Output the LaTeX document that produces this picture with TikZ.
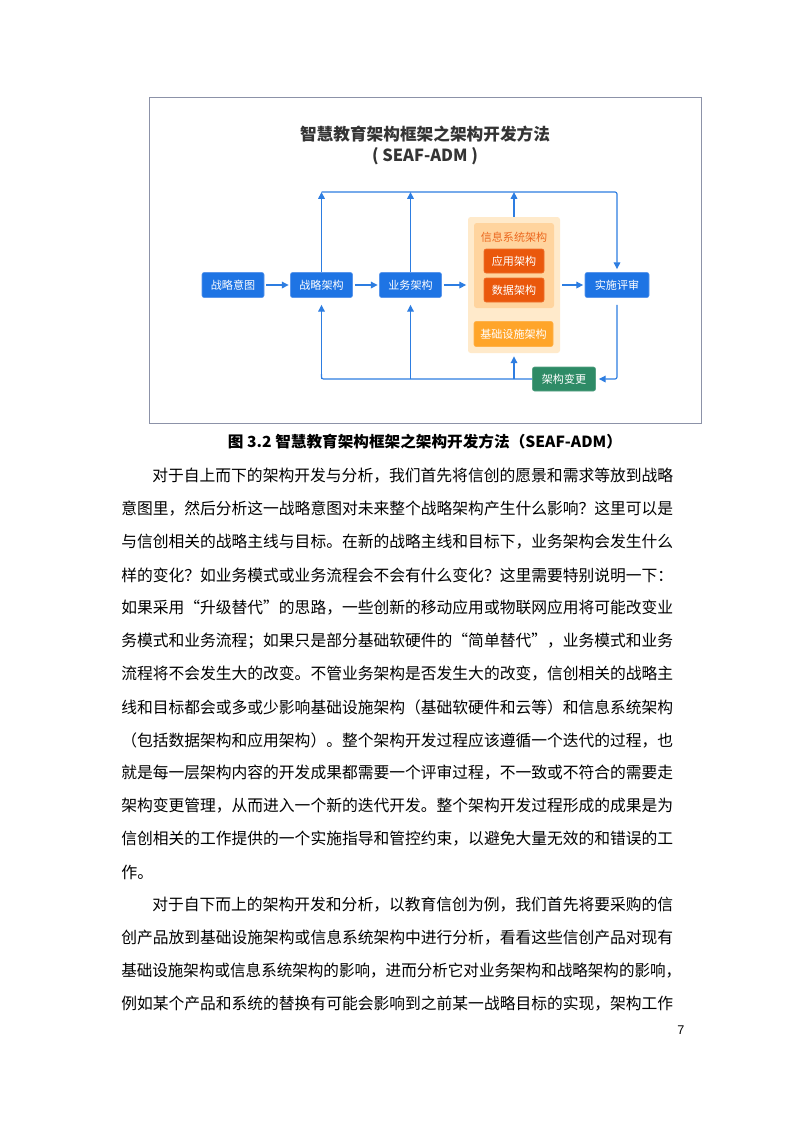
\documentclass[tikz,border=0pt]{standalone}
\usepackage{fontspec}
\usepackage{graphicx}
\newfontfamily\cjk{Noto Sans CJK SC}
\newfontfamily\numfont{Liberation Sans}
\usetikzlibrary{arrows.meta}
\newdimen\upx \upx=0.75pt
\newcommand\fitw[2]{\resizebox{#1\upx}{\height}{#2}}
\definecolor{bluef}{RGB}{30,116,228}
\definecolor{bluebd}{RGB}{90,150,235}
\definecolor{linec}{RGB}{45,125,225}
\definecolor{outerf}{RGB}{255,234,203}
\definecolor{innerf}{RGB}{255,212,158}
\definecolor{darkor}{RGB}{234,88,12}
\definecolor{amber}{RGB}{255,165,42}
\definecolor{lblc}{RGB}{236,104,30}
\definecolor{greenf}{RGB}{46,139,102}
\definecolor{framec}{RGB}{140,146,168}
\definecolor{titlec}{RGB}{52,52,52}
\tikzset{
  boxbase/.style={rounded corners=1.5pt, text=white, inner sep=0pt,
    font=\cjk\fontsize{8.3}{9}\selectfont, minimum width=62\upx, minimum height=25\upx, line width=0.4pt},
  bluebox/.style={boxbase, draw=bluebd, fill=bluef},
  greenbox/.style={boxbase, draw=greenf!80!white, fill=greenf, minimum width=63\upx, minimum height=24\upx},
  darkbox/.style={boxbase, draw=darkor!85!white, fill=darkor, minimum width=60\upx, minimum height=24\upx},
  amberbox/.style={boxbase, draw=amber!85!white, fill=amber, minimum width=79\upx, minimum height=25\upx},
  outerc/.style={fill=outerf, rounded corners=2pt, minimum width=92\upx, minimum height=136\upx, inner sep=0pt},
  innerc/.style={fill=innerf, rounded corners=2pt, minimum width=80\upx, minimum height=85\upx, inner sep=0pt},
  lbl/.style={text=lblc, font=\cjk\fontsize{8.3}{9}\selectfont, inner sep=0pt},
  frame/.style={draw=framec, line width=0.7pt, minimum width=552\upx, minimum height=326\upx, inner sep=0pt},
  conn/.style={draw=linec, line width=0.85pt, -{Triangle[length=5.2pt,width=5pt]}},
  plain/.style={draw=linec, line width=0.85pt},
  bodyt/.style={anchor=west, inner sep=0pt, font=\cjk\fontsize{12}{14}\selectfont},
  titlet/.style={inner sep=0pt, text=titlec, font=\cjk\bfseries\fontsize{12.5}{14}\selectfont},
}
\begin{document}
\begin{tikzpicture}[x=0.75pt,y=-0.75pt]
\useasboundingbox (0,0) rectangle (793,1122);
\fill[white] (0,0) rectangle (793,1122);

% frame
\node[frame] (fr) at (425,260) {};

% title
\node[titlet] (t1) at (425,134) {\fitw{250}{智慧教育架构框架之架构开发方法}};
\node[titlet] (t2) at (425,156.5) {\fitw{106}{( SEAF-ADM )}};

% container
\node[outerc] (ct) at (514,285) {};
\node[innerc] (xx) at (514,265.5) {};
\node[lbl] (xxl) at (514,237.5) {信息系统架构};
\node[darkbox] (yy) at (514,261) {应用架构};
\node[darkbox] (sj) at (514,290) {数据架构};
\node[amberbox] (jc) at (513.5,334) {基础设施架构};

% boxes
\node[bluebox] (yt) at (233,285) {战略意图};
\node[bluebox] (zj) at (321.5,285) {战略架构};
\node[bluebox] (yw) at (410.5,285) {业务架构};
\node[bluebox, minimum width=64\upx] (ss) at (617,285) {实施评审};
\node[greenbox] (bg) at (564,379) {架构变更};

\coordinate (top) at (0,192);
\coordinate (bot) at (0,379);

% horizontal flow
\draw[conn, shorten <=2\upx, shorten >=1.5\upx] (yt) -- (zj);
\draw[conn, shorten <=2\upx, shorten >=1.5\upx] (zj) -- (yw);
\draw[conn, shorten <=2\upx, shorten >=1.5\upx] (yw) -- (ct);
\draw[conn, shorten <=2\upx, shorten >=1.5\upx] (ct) -- (ss);

% top loop
\draw[conn] (zj.north) -- (zj.north |- top);
\draw[conn] (yw.north) -- (yw.north |- top);
\draw[conn] (ct.north) -- (ct.north |- top);
\draw[conn, rounded corners=1.5pt, shorten >=3\upx] (zj.north |- top) -- (ss.north |- top) -- (ss.north);

% bottom loop
\draw[conn, rounded corners=1.5pt, shorten <=7\upx, shorten >=3\upx] (ss.south) -- (ss.south |- bot) -- (bg.east);
\draw[plain, rounded corners=1.5pt] (bg.west) -- (zj.south |- bot) -- ++(0,-5);
\draw[conn, shorten >=7\upx] (zj.south |- bot) -- (zj.south);
\draw[conn, shorten >=7\upx] (yw.south |- bot) -- (yw.south);
\draw[conn, shorten >=3\upx] (ct.south |- bot) -- (ct.south);

% caption
\node[inner sep=0pt, font=\cjk\bfseries\fontsize{11.5}{13}\selectfont] (cap) at (425,442)
  {\fitw{394}{图 3.2 智慧教育架构框架之架构开发方法（SEAF-ADM）}};

% body text
\node[bodyt] (l1) at (152,476) {\fitw{521}{对于自上而下的架构开发与分析，我们首先将信创的愿景和需求等放到战略}};
\node[bodyt] (l2) at (121,509) {\fitw{552}{意图里，然后分析这一战略意图对未来整个战略架构产生什么影响？这里可以是}};
\node[bodyt] (l3) at (121,542) {\fitw{552}{与信创相关的战略主线与目标。在新的战略主线和目标下，业务架构会发生什么}};
\node[bodyt] (l4) at (121,575) {\fitw{552}{样的变化？如业务模式或业务流程会不会有什么变化？这里需要特别说明一下：}};
\node[bodyt] (l5) at (121,608) {\fitw{552}{如果采用“升级替代”的思路，一些创新的移动应用或物联网应用将可能改变业}};
\node[bodyt] (l6) at (121,641) {\fitw{552}{务模式和业务流程；如果只是部分基础软硬件的“简单替代”，业务模式和业务}};
\node[bodyt] (l7) at (121,674) {\fitw{552}{流程将不会发生大的改变。不管业务架构是否发生大的改变，信创相关的战略主}};
\node[bodyt] (l8) at (121,707) {\fitw{552}{线和目标都会或多或少影响基础设施架构（基础软硬件和云等）和信息系统架构}};
\node[bodyt] (l9) at (121,740) {\fitw{552}{（包括数据架构和应用架构）。整个架构开发过程应该遵循一个迭代的过程，也}};
\node[bodyt] (l10) at (121,773) {\fitw{552}{就是每一层架构内容的开发成果都需要一个评审过程，不一致或不符合的需要走}};
\node[bodyt] (l11) at (121,806) {\fitw{552}{架构变更管理，从而进入一个新的迭代开发。整个架构开发过程形成的成果是为}};
\node[bodyt] (l12) at (121,839) {\fitw{552}{信创相关的工作提供的一个实施指导和管控约束，以避免大量无效的和错误的工}};
\node[bodyt] (l13) at (121,872) {作。};
\node[bodyt] (l14) at (152,905) {\fitw{521}{对于自下而上的架构开发和分析，以教育信创为例，我们首先将要采购的信}};
\node[bodyt] (l15) at (121,938) {\fitw{552}{创产品放到基础设施架构或信息系统架构中进行分析，看看这些信创产品对现有}};
\node[bodyt] (l16) at (121,971) {\fitw{560}{基础设施架构或信息系统架构的影响，进而分析它对业务架构和战略架构的影响，}};
\node[bodyt] (l17) at (121,1004) {\fitw{552}{例如某个产品和系统的替换有可能会影响到之前某一战略目标的实现，架构工作}};

\node[inner sep=0pt, font=\numfont\fontsize{9.5}{11}\selectfont] (pg) at (681,1030) {7};
\end{tikzpicture}
\end{document}
